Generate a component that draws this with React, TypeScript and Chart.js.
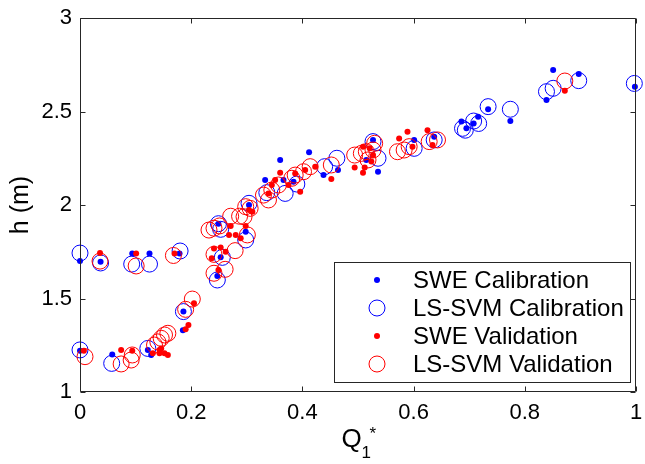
import React, { useEffect, useRef } from "react";
import { Chart, registerables } from "chart.js";

Chart.register(...registerables);

const xTickValues = [0, 0.2, 0.4, 0.6, 0.8, 1];
const yTickValues = [1, 1.5, 2, 2.5, 3];

const seriesNames = ["SWE Calibration", "LS-SVM Calibration", "SWE Validation", "LS-SVM Validation"];

const sweCalX = [0, 0.037, 0.094, 0.125, 0.179, 0, 0.058, 0.122, 0.128, 0.185, 0.186, 0.247, 0.253, 0.249, 0.298, 0.304, 0.333, 0.366, 0.384, 0.36, 0.412, 0.438, 0.464, 0.515, 0.527, 0.536, 0.601, 0.637, 0.686, 0.695, 0.708, 0.716, 0.734, 0.774, 0.839, 0.851, 0.897, 0.998];
const sweCalY = [1.70, 1.697, 1.74, 1.74, 1.74, 1.22, 1.20, 1.225, 1.198, 1.33, 1.43, 1.62, 1.72, 1.90, 1.857, 2.0, 2.134, 2.134, 2.125, 2.24, 2.282, 2.16, 2.187, 2.241, 2.348, 2.178, 2.348, 2.365, 2.446, 2.41, 2.436, 2.472, 2.512, 2.449, 2.561, 2.722, 2.70, 2.633];

const svmCalX = [0, 0.037, 0.093, 0.125, 0.18, 0, 0.057, 0.122, 0.186, 0.247, 0.256, 0.249, 0.253, 0.298, 0.304, 0.336, 0.369, 0.39, 0.44, 0.462, 0.527, 0.536, 0.601, 0.637, 0.688, 0.693, 0.708, 0.717, 0.734, 0.774, 0.839, 0.851, 0.897, 0.997];
const svmCalY = [1.743, 1.69, 1.684, 1.684, 1.754, 1.225, 1.153, 1.233, 1.43, 1.599, 1.72, 1.90, 1.87, 1.813, 2.009, 2.066, 2.062, 2.112, 2.205, 2.25, 2.339, 2.25, 2.303, 2.348, 2.41, 2.40, 2.449, 2.436, 2.526, 2.512, 2.606, 2.624, 2.665, 2.65];

const sweValX = [0.036, 0.101, 0.17, 0.007, 0.074, 0.094, 0.131, 0.143, 0.152, 0.158, 0.143, 0.146, 0.19, 0.195, 0.205, 0.249, 0.237, 0.241, 0.253, 0.262, 0.271, 0.268, 0.28, 0.289, 0.298, 0.304, 0.31, 0.339, 0.345, 0.351, 0.36, 0.375, 0.387, 0.396, 0.405, 0.423, 0.452, 0.494, 0.509, 0.512, 0.509, 0.521, 0.527, 0.524, 0.574, 0.589, 0.598, 0.625, 0.634, 0.872];
const sweValY = [1.743, 1.74, 1.74, 1.221, 1.225, 1.221, 1.207, 1.207, 1.207, 1.198, 1.225, 1.233, 1.335, 1.358, 1.474, 1.652, 1.715, 1.768, 1.773, 1.75, 1.888, 1.84, 1.84, 1.822, 1.888, 1.973, 1.964, 2.062, 2.107, 2.134, 2.173, 2.107, 2.169, 2.071, 2.187, 2.205, 2.139, 2.2, 2.173, 2.2, 2.312, 2.303, 2.267, 2.232, 2.356, 2.392, 2.312, 2.40, 2.321, 2.611];

const svmValX = [0.036, 0.101, 0.168, 0.009, 0.074, 0.094, 0.092, 0.134, 0.14, 0.146, 0.152, 0.158, 0.19, 0.202, 0.241, 0.261, 0.241, 0.279, 0.232, 0.241, 0.251, 0.301, 0.271, 0.287, 0.295, 0.298, 0.306, 0.33, 0.339, 0.345, 0.357, 0.381, 0.387, 0.402, 0.414, 0.452, 0.494, 0.506, 0.515, 0.527, 0.53, 0.518, 0.571, 0.583, 0.592, 0.628, 0.643, 0.872];
const svmValY = [1.70, 1.674, 1.73, 1.189, 1.15, 1.198, 1.171, 1.251, 1.268, 1.287, 1.305, 1.314, 1.442, 1.497, 1.635, 1.656, 1.736, 1.756, 1.866, 1.876, 1.888, 1.84, 1.94, 1.94, 1.937, 1.991, 1.982, 2.053, 2.027, 2.08, 2.107, 2.143, 2.16, 2.178, 2.205, 2.214, 2.267, 2.276, 2.285, 2.294, 2.33, 2.241, 2.285, 2.294, 2.312, 2.339, 2.348, 2.663];

const BLUE = "#0000ff";
const RED = "#ff0000";
const AXIS = "#262626";
const FONT = "'Liberation Sans', Arial, sans-serif";

const pts = (xs: number[], ys: number[]) => xs.map((x, i) => ({ x, y: ys[i] }));

const fmt = (v: number) => String(Math.round(v * 10) / 10);

const zeroPad = (s: any) => {
  s.paddingLeft = 0;
  s.paddingRight = 0;
  s.paddingTop = 0;
  s.paddingBottom = 0;
};

const framePlugin = {
  id: "matlabFrame",
  afterDatasetsDraw(chart: any) {
    const { ctx, chartArea, scales } = chart;
    const { left, right, top, bottom } = chartArea;
    const xs = scales.x;
    const ys = scales.y;
    ctx.save();
    ctx.strokeStyle = AXIS;
    ctx.lineWidth = 1;
    const L = Math.round(left) + 0.5;
    const R = Math.round(right) - 0.5;
    const T = Math.round(top) + 0.5;
    const B = Math.round(bottom) - 0.5;
    ctx.beginPath();
    ctx.rect(L, T, R - L, B - T);
    const tl = 5;
    xTickValues.forEach((v) => {
      const px = Math.round(xs.getPixelForValue(v)) + 0.5;
      ctx.moveTo(px, B);
      ctx.lineTo(px, B - tl);
      ctx.moveTo(px, T);
      ctx.lineTo(px, T + tl);
    });
    yTickValues.forEach((v) => {
      const py = Math.round(ys.getPixelForValue(v)) + 0.5;
      ctx.moveTo(L, py);
      ctx.lineTo(L + tl, py);
      ctx.moveTo(R, py);
      ctx.lineTo(R - tl, py);
    });
    ctx.stroke();

    // x tick labels
    ctx.fillStyle = "#000";
    ctx.font = `22px ${FONT}`;
    ctx.textAlign = "center";
    ctx.textBaseline = "middle";
    xTickValues.forEach((v) => {
      ctx.fillText(fmt(v), xs.getPixelForValue(v), bottom + 21);
    });

    // axis titles
    ctx.textBaseline = "alphabetic";
    ctx.textAlign = "left";
    ctx.font = `26px ${FONT}`;
    ctx.fillText("Q", 341.5, 447);
    ctx.font = `17px ${FONT}`;
    ctx.fillText("1", 361.5, 458);
    ctx.fillText("*", 369.5, 439);

    ctx.save();
    ctx.translate(21, 205);
    ctx.rotate(-Math.PI / 2);
    ctx.font = `25px ${FONT}`;
    ctx.textAlign = "center";
    ctx.textBaseline = "middle";
    ctx.fillText("h (m)", 0, 0);
    ctx.restore();

    // legend
    const lx = 334.5, ly = 262.5, lw = 296, lh = 120;
    ctx.fillStyle = "#fff";
    ctx.fillRect(lx, ly, lw, lh);
    ctx.strokeStyle = AXIS;
    ctx.strokeRect(lx, ly, lw, lh);
    const colors = [BLUE, BLUE, RED, RED];
    const filled = [true, false, true, false];
    seriesNames.forEach((name, i) => {
      const ry = 280 + i * 28;
      ctx.beginPath();
      if (filled[i]) {
        ctx.fillStyle = colors[i];
        ctx.arc(377, ry, 3, 0, Math.PI * 2);
        ctx.fill();
      } else {
        ctx.strokeStyle = colors[i];
        ctx.arc(377, ry, 8, 0, Math.PI * 2);
        ctx.stroke();
      }
      ctx.fillStyle = "#000";
      ctx.font = `24px ${FONT}`;
      ctx.textAlign = "left";
      ctx.textBaseline = "middle";
      ctx.fillText(name, 413, ry + 1);
    });
    ctx.restore();
  },
};

export default function App() {
  const ref = useRef<HTMLCanvasElement>(null);
  useEffect(() => {
    document.body.style.margin = "0";
    document.body.style.overflow = "hidden";
    const canvas = ref.current!;
    const dot = (color: string) => ({
      pointStyle: "circle",
      pointRadius: 3,
      pointBackgroundColor: color,
      pointBorderColor: color,
      pointBorderWidth: 0,
      showLine: false,
      clip: false,
    });
    const ring = (color: string) => ({
      pointStyle: "circle",
      pointRadius: 8,
      pointBackgroundColor: "rgba(0,0,0,0)",
      pointBorderColor: color,
      pointBorderWidth: 1,
      showLine: false,
      clip: false,
    });
    const chart = new Chart(canvas, {
      type: "scatter",
      data: {
        datasets: [
          { label: seriesNames[0], data: pts(sweCalX, sweCalY), order: 4, ...dot(BLUE) },
          { label: seriesNames[1], data: pts(svmCalX, svmCalY), order: 3, ...ring(BLUE) },
          { label: seriesNames[2], data: pts(sweValX, sweValY), order: 2, ...dot(RED) },
          { label: seriesNames[3], data: pts(svmValX, svmValY), order: 1, ...ring(RED) },
        ] as any,
      },
      options: {
        animation: false,
        responsive: false,
        devicePixelRatio: 1,
        layout: { padding: { left: 0, right: 5, top: 18, bottom: 0 } },
        plugins: { legend: { display: false }, tooltip: { enabled: false } },
        scales: {
          x: {
            type: "linear",
            min: 0,
            max: 1,
            grid: { display: false, drawTicks: false },
            border: { display: false },
            afterBuildTicks: (s: any) => {
              s.ticks = xTickValues.map((v) => ({ value: v }));
            },
            afterFit: (s: any) => {
              s.height = 72;
              zeroPad(s);
            },
            ticks: { display: false },
          },
          y: {
            type: "linear",
            min: 1,
            max: 3,
            grid: { display: false, drawTicks: false },
            border: { display: false },
            afterBuildTicks: (s: any) => {
              s.ticks = yTickValues.map((v) => ({ value: v }));
            },
            afterFit: (s: any) => {
              s.width = 80;
              zeroPad(s);
            },
            ticks: {
              color: "#000",
              font: { family: FONT, size: 22 },
              padding: 8,
              autoSkip: false,
              callback: (v: any) => fmt(Number(v)),
            },
          },
        },
      },
      plugins: [framePlugin],
    });
    return () => chart.destroy();
  }, []);
  return (
    <div style={{ width: 645, height: 464, background: "#fff", overflow: "hidden" }}>
      <canvas ref={ref} width={645} height={464} style={{ display: "block" }} />
    </div>
  );
}
